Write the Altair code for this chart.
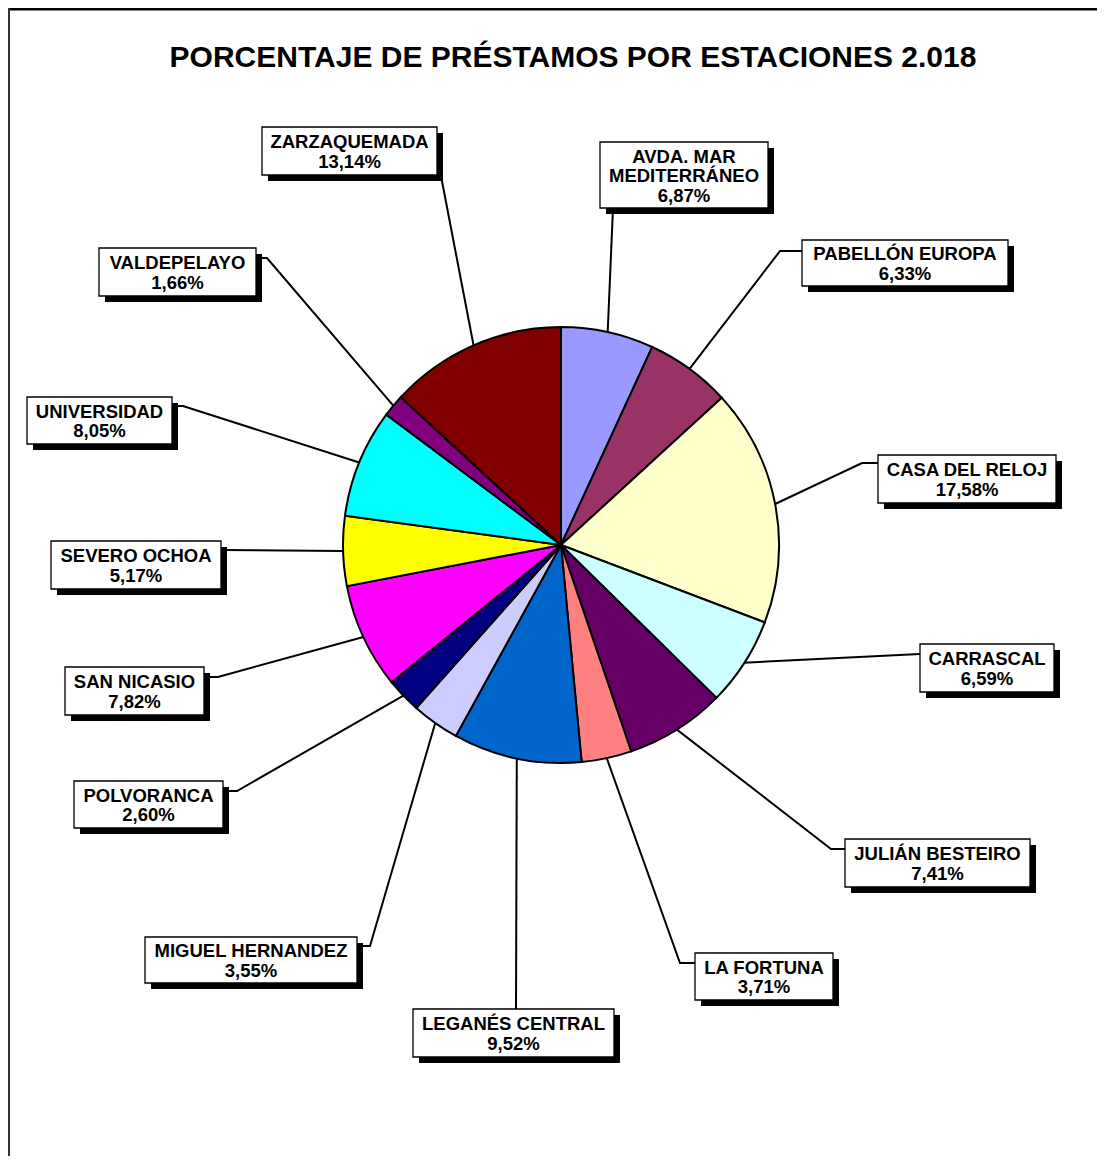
import altair as alt
import pandas as pd
import numpy as np

# ---------------- data ----------------
stations = [
    "AVDA. MAR MEDITERRÁNEO", "PABELLÓN EUROPA", "CASA DEL RELOJ", "CARRASCAL",
    "JULIÁN BESTEIRO", "LA FORTUNA", "LEGANÉS CENTRAL", "MIGUEL HERNANDEZ",
    "POLVORANCA", "SAN NICASIO", "SEVERO OCHOA", "UNIVERSIDAD",
    "VALDEPELAYO", "ZARZAQUEMADA",
]
label_names = [
    "AVDA. MAR\nMEDITERRÁNEO", "PABELLÓN EUROPA", "CASA DEL RELOJ", "CARRASCAL",
    "JULIÁN BESTEIRO", "LA FORTUNA", "LEGANÉS CENTRAL", "MIGUEL HERNANDEZ",
    "POLVORANCA", "SAN NICASIO", "SEVERO OCHOA", "UNIVERSIDAD",
    "VALDEPELAYO", "ZARZAQUEMADA",
]
percentages = [6.87, 6.33, 17.58, 6.59, 7.41, 3.71, 9.52, 3.55, 2.60, 7.82, 5.17, 8.05, 1.66, 13.14]
colors = [
    "#9999FF", "#993366", "#FFFFCC", "#CCFFFF", "#660066", "#FF8080", "#0066CC",
    "#CCCCFF", "#000080", "#FF00FF", "#FFFF00", "#00FFFF", "#800080", "#800000",
]
title_text = "PORCENTAJE DE PRÉSTAMOS POR ESTACIONES 2.018"

# ---------------- layout (page pixel coordinates) ----------------
W, H = 1089, 1148
OFF = 8
CX, CY, R = 561, 545, 218
SHADOW = 6
FONT = "Liberation Sans, Arial, sans-serif"
LABEL_SIZE = 18.5
LINE_H = 19.5

# label boxes: (left, top, right, bottom)
boxes = [
    (600, 142, 768, 208), (802, 240, 1008, 286), (878, 455, 1056, 503),
    (920, 644, 1054, 692), (845, 839, 1030, 887), (695, 953, 833, 1000),
    (413, 1009, 614, 1057), (145, 937, 357, 983), (74, 781, 223, 828),
    (65, 667, 204, 715), (51, 541, 221, 589), (27, 397, 172, 444),
    (99, 248, 256, 296), (262, 127, 437, 175),
]
# leader attachment points near each box (box side first, then elbow)
leader_starts = [
    [(613, 208)],
    [(802, 251), (780, 251)],
    [(878, 463), (862, 463)],
    [(920, 654)],
    [(845, 849), (831, 849)],
    [(695, 963), (680, 963)],
    [(516, 1009)],
    [(357, 946), (370, 946)],
    [(223, 791), (237, 791)],
    [(204, 677), (218, 677)],
    [(221, 550)],
    [(172, 406), (183, 406)],
    [(256, 258), (267, 258)],
    [(441, 176)],
]

# ---------------- tables ----------------
pie_df = pd.DataFrame({"station": stations, "value": percentages, "idx": range(len(stations))})

pct_txt = [f"{v:.2f}".replace(".", ",") + "%" for v in percentages]
labels = [f"{n}\n{p}" for n, p in zip(label_names, pct_txt)]
box_df = pd.DataFrame({
    "station": stations,
    "label": labels,
    "nlines": [lab.count("\n") + 1 for lab in labels],
    "x1": [b[0] for b in boxes], "y1": [b[1] for b in boxes],
    "x2": [b[2] for b in boxes], "y2": [b[3] for b in boxes],
})
box_df["sx1"] = box_df.x1 + SHADOW
box_df["sx2"] = box_df.x2 + SHADOW
box_df["sy1"] = box_df.y1 + SHADOW
box_df["sy2"] = box_df.y2 + SHADOW
box_df["tx"] = (box_df.x1 + box_df.x2) / 2
box_df["ty"] = (box_df.y1 + box_df.y2) / 2 + 1 - (box_df.nlines - 1) * LINE_H / 2

vals = np.array(percentages)
mid = (np.cumsum(vals) - vals / 2) / vals.sum() * 2 * np.pi
rows = []
for i, st in enumerate(stations):
    pts = list(leader_starts[i]) + [(CX + R * np.sin(mid[i]), CY - R * np.cos(mid[i]))]
    for j, (px, py) in enumerate(pts):
        rows.append({"id": i, "seq": j, "x": px, "y": py})
lead_df = pd.DataFrame(rows)

xs = alt.Scale(domain=[OFF, OFF + W], range=[0, W])
ys = alt.Scale(domain=[OFF, OFF + H], range=[0, H])

# ---------------- layers ----------------
frame_top = alt.Chart(pie_df.head(1)).mark_rule(color="black", strokeWidth=3).encode(
    x=alt.value(0), x2=alt.value(W), y=alt.value(1)
)
frame_left = alt.Chart(pie_df.head(1)).mark_rule(color="#333333", strokeWidth=2).encode(
    x=alt.value(1), y=alt.value(0), y2=alt.value(H)
)

leaders = alt.Chart(lead_df).mark_line(color="black", strokeWidth=2).encode(
    x=alt.X("x:Q", scale=xs, axis=None),
    y=alt.Y("y:Q", scale=ys, axis=None),
    detail="id:N",
    order="seq:Q",
)

pie = alt.Chart(pie_df).mark_arc(radius=R, stroke="black", strokeWidth=2).encode(
    theta=alt.Theta("value:Q", stack=True),
    order=alt.Order("idx:Q"),
    color=alt.Color("station:N", scale=alt.Scale(domain=stations, range=colors), legend=None),
    x=alt.X(datum=CX, scale=xs, axis=None),
    y=alt.Y(datum=CY, scale=ys, axis=None),
)

shadows = alt.Chart(box_df).mark_rect(color="black").encode(
    x=alt.X("sx1:Q", scale=xs, axis=None), x2="sx2:Q",
    y=alt.Y("sy1:Q", scale=ys, axis=None), y2="sy2:Q",
)
rects = alt.Chart(box_df).mark_rect(fill="white", stroke="black", strokeWidth=1.3).encode(
    x=alt.X("x1:Q", scale=xs, axis=None), x2="x2:Q",
    y=alt.Y("y1:Q", scale=ys, axis=None), y2="y2:Q",
)
texts = alt.Chart(box_df).mark_text(
    font=FONT, fontSize=LABEL_SIZE, fontWeight="bold", color="black",
    align="center", baseline="middle", lineBreak="\n", lineHeight=LINE_H,
).encode(
    x=alt.X("tx:Q", scale=xs, axis=None),
    y=alt.Y("ty:Q", scale=ys, axis=None),
    text="label:N",
)

title = alt.Chart(pie_df.head(1)).mark_text(
    font=FONT, fontSize=30, fontWeight="bold", color="black",
    align="center", baseline="middle",
).encode(
    x=alt.X(datum=573, scale=xs, axis=None),
    y=alt.Y(datum=58, scale=ys, axis=None),
    text=alt.value(title_text),
)

chart = alt.layer(
    frame_top, frame_left, leaders, pie, shadows, rects, texts, title
).properties(
    width=W, height=H, autosize=alt.AutoSizeParams(type="none"), padding=0,
    background="white",
).configure_view(strokeWidth=0)

chart.save("out.html", embed_options={"renderer": "svg", "actions": False})
